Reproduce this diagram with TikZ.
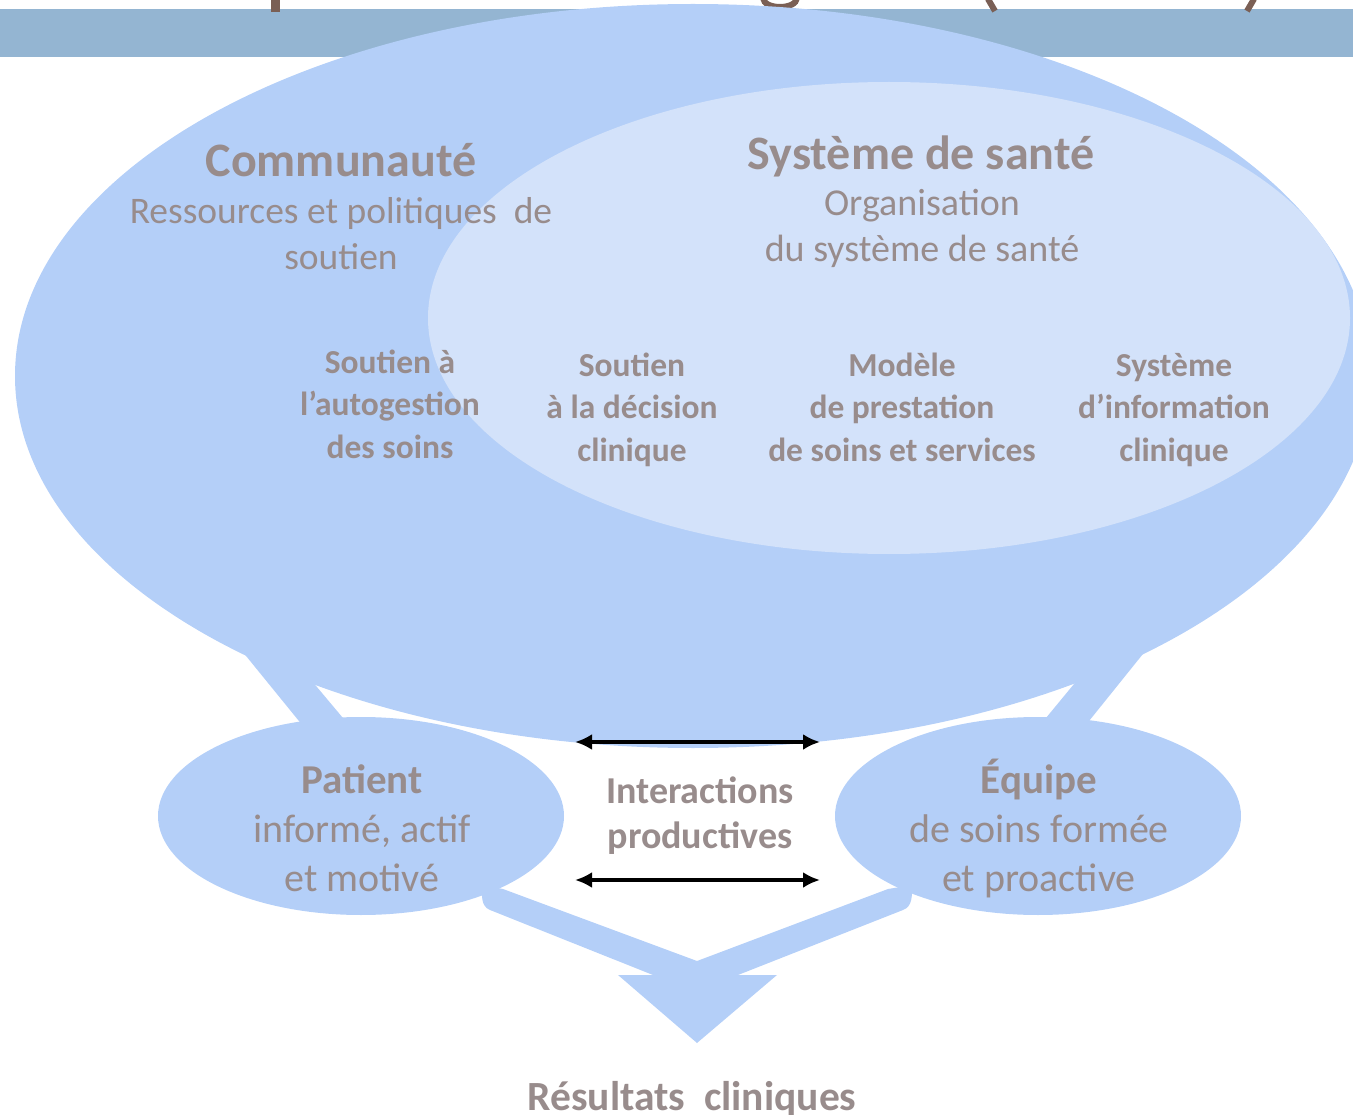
\documentclass[tikz,border=0pt]{standalone}
\usepackage{fontspec}
\setmainfont{Carlito}
\usetikzlibrary{positioning, arrows.meta, shapes.geometric}

\definecolor{bandblue}{HTML}{94B5D2}
\definecolor{outerblue}{HTML}{B4CFF8}
\definecolor{innerblue}{HTML}{D3E2FA}
\definecolor{labelgrey}{HTML}{988C8C}
\definecolor{titlebrown}{HTML}{7A5F55}

\begin{document}
\begin{tikzpicture}[x=1pt, y=-1pt,
    % multi-line labels sit on the baseline of their last line
    head/.style={text=labelgrey, inner sep=0pt, anchor=base, font=\fontsize{48}{56}\selectfont\bfseries},
    sub/.style={text=labelgrey, inner sep=0pt, anchor=base, align=center, font=\fontsize{37.5}{46}\selectfont},
    block/.style={text=labelgrey, inner sep=0pt, anchor=base, align=center, font=\fontsize{33.5}{42.5}\selectfont\bfseries},
    person/.style={ellipse, fill=outerblue, inner sep=0pt, minimum width=406pt, minimum height=198pt},
    both/.style={line width=3.5pt, {Latex[length=17pt,width=16pt]}-{Latex[length=17pt,width=16pt]}}]

\useasboundingbox (0,0) rectangle (1353,1115);

% title bar, the title itself runs off the top
\fill[bandblue] (0,9) rectangle (1353,57);
\fill[titlebrown] (271,0) rectangle (280,12);
\draw[titlebrown, line width=6pt] (763,-2) .. controls (764,10) and (796,10) .. (797,-2);
\draw[titlebrown, line width=6pt] (988,-1) -- (995,11);
\draw[titlebrown, line width=6pt] (1254,-1) -- (1247,11);

% community (outer) and health system (inner)
\fill[outerblue] (693,376) ellipse [x radius=678, y radius=372];
\fill[innerblue] (889,318) ellipse [x radius=461, y radius=236];

% legs down to patient and team
\fill[outerblue] (229,635) -- (303,726) -- (348,724) -- (301,668) -- cycle;
\fill[outerblue] (1159,634) -- (1085,726) -- (1041,724) -- (1088,667) -- cycle;

\node[person] (patient) at (361,816) {};
\node[person] (team) at (1038,816) {};

% both feed into the outcomes arrow
\fill[outerblue] (482,885) -- (503,889) -- (697,961) -- (888,889) -- (912,885)
    to[out=-90, in=20] (903,910) -- (738,975) -- (777,975) -- (697,1043)
    -- (618,975) -- (653,975) -- (490,910) to[out=158, in=-90] (482,885) -- cycle;

% interaction arrows
\coordinate (topL) at (575,742);
\coordinate (topR) at (820,742);
\coordinate (botL) at (575,880);
\coordinate (botR) at (820,880);
\draw[both] (topL) -- (topR);
\draw[both] (botL) -- (botR);

% labels
\node[head] (commhead) at (341,177) {Communauté};
\node[sub] (commsub) at (341,270) {Ressources et politiques\ \ de\\soutien};
\node[head] (syshead) at (921,170) {Système de santé};
\node[sub, font=\fontsize{38}{46}\selectfont] (syssub) at (922,262) {Organisation\\du système de santé};

\node[block] (selfmgmt) at (390,458) {Soutien à\\l’autogestion\\des soins};
\node[block] (decision) at (632,461) {Soutien\\à la décision\\clinique};
\node[block] (delivery) at (902,461) {Modèle\\de prestation\\de soins\ et services};
\node[block] (infosys) at (1174,461) {Système\\d’information\\clinique};

\node[head, font=\fontsize{41}{49}\selectfont\bfseries] (pathead) at (362,793) {Patient};
\node[sub, font=\fontsize{40}{49}\selectfont] (patsub) at (362,891) {informé, actif\\et motivé};
\node[block, font=\fontsize{38}{45}\selectfont\bfseries] (inter) at (700,848) {Interactions\\productives};
\node[head, font=\fontsize{41}{49}\selectfont\bfseries] (teamhead) at (1039,793) {Équipe};
\node[sub, font=\fontsize{40}{49}\selectfont] (teamsub) at (1039,891) {de soins formée\\et proactive};

\node[head, font=\fontsize{41.5}{50}\selectfont\bfseries] (outcome) at (692,1110) {Résultats\ \ cliniques};

\end{tikzpicture}
\end{document}
